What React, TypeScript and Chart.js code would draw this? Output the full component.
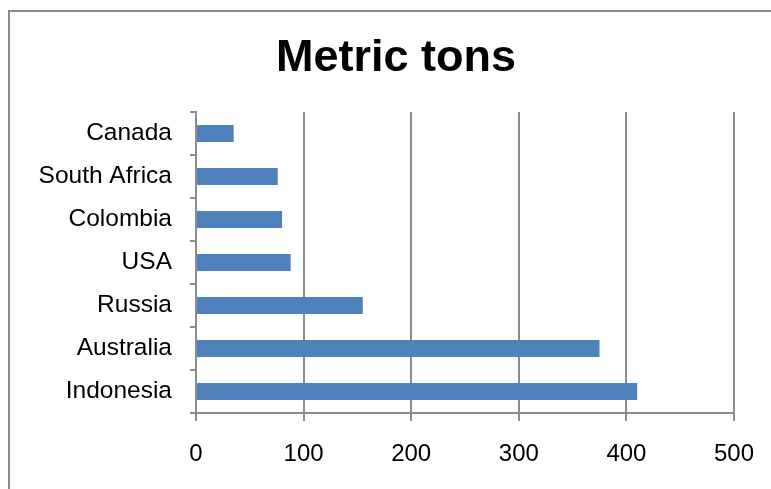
import React, { useEffect, useRef } from "react";
import { Chart, registerables } from "chart.js";

Chart.register(...registerables);

const categories = ["Canada", "South Africa", "Colombia", "USA", "Russia", "Australia", "Indonesia"];
const tons = [35, 76, 80, 88, 155, 375, 410];
const xMin = 0;
const xMax = 500;
const xStep = 100;
const titleText = "Metric tons";

const GRID = "#8c8c8c";
const BAR = "#4f81bd";
const FONT = '"Liberation Sans", Arial, sans-serif';

// White page, a grey frame along the left and top, and the heading.
const framePlugin = {
  id: "frame",
  beforeDraw(chart: Chart) {
    const ctx = chart.ctx;
    ctx.save();
    ctx.fillStyle = "#ffffff";
    ctx.fillRect(0, 0, chart.width, chart.height);
    ctx.strokeStyle = GRID;
    ctx.lineWidth = 2;
    ctx.beginPath();
    ctx.moveTo(9, chart.height);
    ctx.lineTo(9, 11);
    ctx.lineTo(chart.width, 11);
    ctx.stroke();
    ctx.restore();
  },
  afterDraw(chart: Chart) {
    const ctx = chart.ctx;
    ctx.save();
    ctx.fillStyle = "#000000";
    ctx.font = `bold 45px ${FONT}`;
    ctx.textAlign = "center";
    ctx.textBaseline = "alphabetic";
    ctx.fillText(titleText, 396, 71);
    ctx.restore();
  },
};

export default function App() {
  const canvasRef = useRef<HTMLCanvasElement | null>(null);

  useEffect(() => {
    const canvas = canvasRef.current;
    if (!canvas) return;
    const chart = new Chart(canvas, {
      type: "bar",
      data: {
        labels: categories,
        datasets: [
          {
            data: tons,
            backgroundColor: BAR,
            borderWidth: 0,
            barPercentage: 0.4,
            categoryPercentage: 1,
          },
        ],
      },
      options: {
        indexAxis: "y",
        responsive: false,
        animation: false,
        devicePixelRatio: 1,
        layout: { padding: { top: 112, right: 37, left: 0, bottom: 0 } },
        plugins: {
          legend: { display: false },
          title: { display: false },
          tooltip: { enabled: false },
        },
        scales: {
          x: {
            min: xMin,
            max: xMax,
            ticks: {
              stepSize: xStep,
              color: "#000000",
              font: { family: FONT, size: 24 },
              padding: 19,
            },
            grid: {
              color: GRID,
              lineWidth: 2,
              drawTicks: true,
              tickLength: 8,
            },
            border: { display: true, color: GRID, width: 2 },
            afterFit(scale: any) {
              scale.height = 76;
              scale.paddingLeft = 0;
              scale.paddingRight = 0;
            },
          },
          y: {
            ticks: {
              color: "#000000",
              font: { family: FONT, size: 24.5 },
              padding: 18,
            },
            grid: {
              offset: true,
              drawOnChartArea: false,
              drawTicks: true,
              tickLength: 6,
              color: GRID,
              lineWidth: 2,
            },
            border: { display: true, color: GRID, width: 2 },
            afterFit(scale: any) {
              scale.width = 196;
            },
          },
        },
      },
      plugins: [framePlugin],
    });
    return () => chart.destroy();
  }, []);

  return (
    <div style={{ position: "absolute", left: 0, top: 0, width: 771, height: 489 }}>
      <canvas ref={canvasRef} width={771} height={489} style={{ display: "block" }} />
    </div>
  );
}
